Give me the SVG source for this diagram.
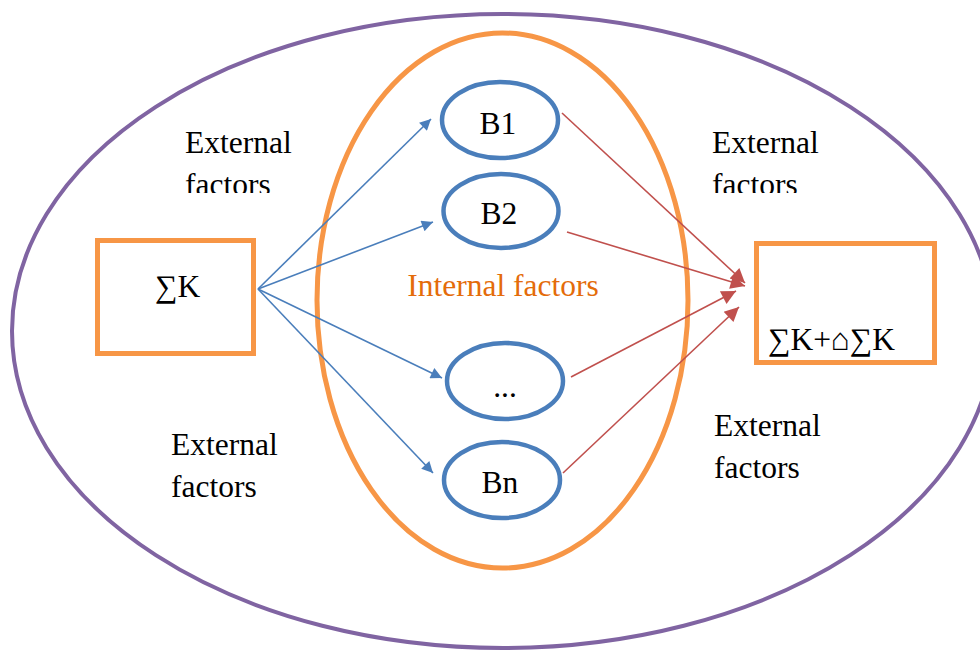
<svg xmlns="http://www.w3.org/2000/svg" width="980" height="650" viewBox="0 0 980 650">
<style>
.t{font-family:"Liberation Serif","Times New Roman",serif;font-size:31.5px;fill:#000}
.node{fill:none;stroke:#4a7ebb;stroke-width:4.5}
.box{fill:#fff;stroke:#f79646;stroke-width:5}
.blue{stroke:#4a7ebb;stroke-width:1.6;fill:none;marker-end:url(#ab)}
.red{stroke:#c0504d;stroke-width:1.6;fill:none;marker-end:url(#ar)}
</style>
<defs>
<marker id="ab" viewBox="0 0 10 10" refX="10" refY="5" markerWidth="9" markerHeight="7" markerUnits="strokeWidth" orient="auto"><path d="M0,0 L10,5 L0,10 z" fill="#4a7ebb"/></marker>
<marker id="ar" viewBox="0 0 10 10" refX="10" refY="5" markerWidth="11" markerHeight="9" markerUnits="strokeWidth" orient="auto"><path d="M0,0 L10,5 L0,10 z" fill="#c0504d"/></marker>
<clipPath id="c1"><rect x="170" y="110" width="150" height="83"/></clipPath>
<clipPath id="c2"><rect x="700" y="110" width="150" height="83"/></clipPath>
<clipPath id="c3"><rect x="700" y="400" width="150" height="78"/></clipPath>
</defs>
<rect width="980" height="650" fill="#fff"/>
<g id="outer"><ellipse cx="503" cy="331" rx="491" ry="317" fill="none" stroke="#8064a2" stroke-width="4"/></g>
<g id="internal"><ellipse cx="502.5" cy="300.5" rx="185.5" ry="267.5" fill="none" stroke="#f79646" stroke-width="5"/>
<text class="t" x="503" y="296" text-anchor="middle" style="fill:#e46c0a">Internal factors</text></g>
<g id="ext-tl" clip-path="url(#c1)"><text class="t" x="185" y="153">External</text><text class="t" x="185" y="195">factors</text></g>
<g id="ext-tr" clip-path="url(#c2)"><text class="t" x="712" y="153">External</text><text class="t" x="712" y="195">factors</text></g>
<g id="ext-bl"><text class="t" x="171" y="455">External</text><text class="t" x="171" y="497">factors</text></g>
<g id="ext-br" clip-path="url(#c3)"><text class="t" x="714" y="436">External</text><text class="t" x="714" y="478">factors</text></g>
<g id="sumK"><rect class="box" x="97.5" y="240.5" width="156" height="113"/><text class="t" x="155" y="297">∑K</text></g>
<g id="sumK2"><rect class="box" x="756.5" y="243.5" width="178" height="119"/><text class="t" x="768" y="350">∑K+⌂∑K</text></g>
<g id="B1"><ellipse class="node" cx="500" cy="120" rx="58" ry="38"/><text class="t" x="498" y="134" text-anchor="middle">B1</text></g>
<g id="B2"><ellipse class="node" cx="501" cy="211" rx="57.5" ry="37"/><text class="t" x="499" y="224" text-anchor="middle">B2</text></g>
<g id="Bdots"><ellipse class="node" cx="505" cy="381" rx="58" ry="38"/><text class="t" x="505" y="397" text-anchor="middle">...</text></g>
<g id="Bn"><ellipse class="node" cx="502" cy="480" rx="58" ry="38"/><text class="t" x="500" y="493" text-anchor="middle">Bn</text></g>
<g id="connectors">
<line class="blue" x1="258" y1="289" x2="431" y2="119"/>
<line class="blue" x1="258" y1="289" x2="433" y2="222"/>
<line class="blue" x1="258" y1="289" x2="442" y2="378"/>
<line class="blue" x1="258" y1="289" x2="433" y2="473"/>
<line class="red" x1="562" y1="113" x2="745" y2="283"/>
<line class="red" x1="567" y1="232" x2="745" y2="286"/>
<line class="red" x1="571" y1="377" x2="736" y2="291"/>
<line class="red" x1="563" y1="473" x2="739" y2="307"/>
</g>
</svg>
